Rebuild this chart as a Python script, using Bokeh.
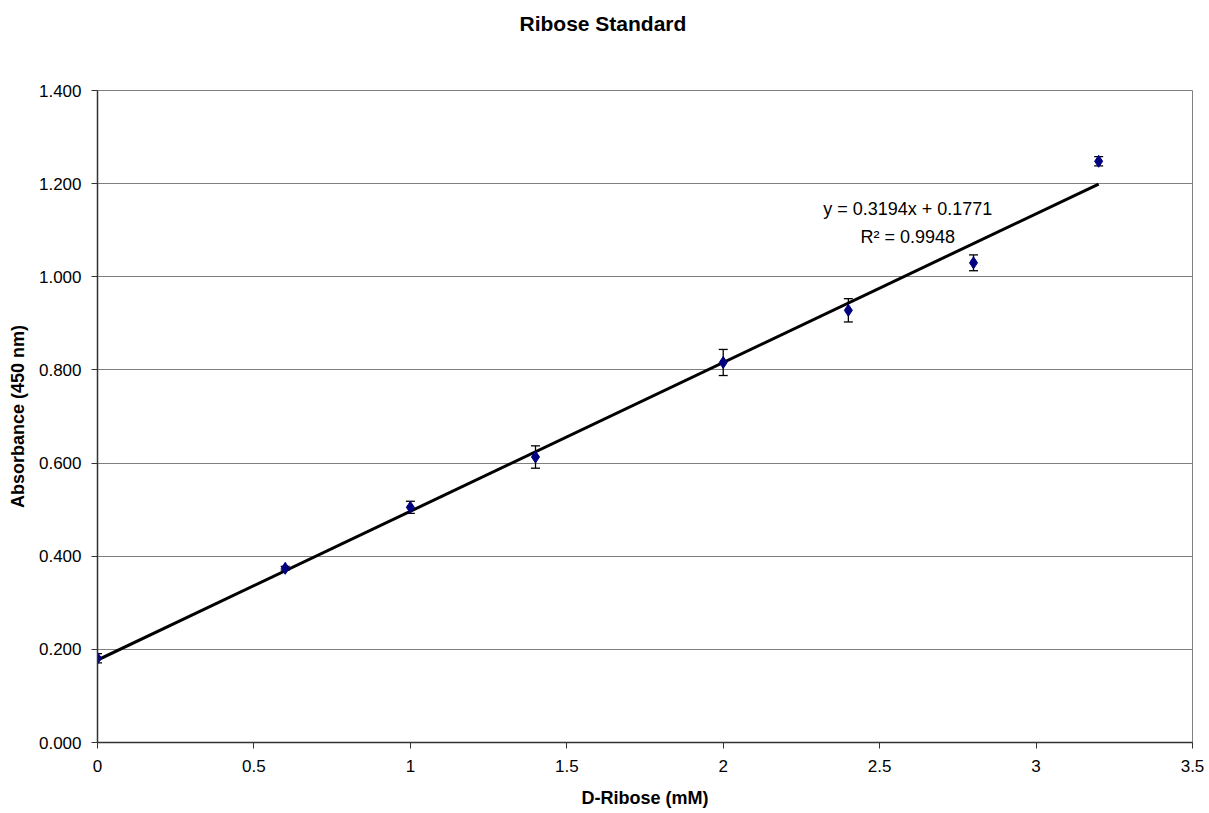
from bokeh.plotting import figure
from bokeh.models import (ColumnDataSource, Whisker, TeeHead, FixedTicker,
                          NumeralTickFormatter, Range1d, Label)
from bokeh.embed import file_html
from bokeh.resources import INLINE

# ---- data ----
ribose_mM = [0.0, 0.6, 1.0, 1.4, 2.0, 2.4, 2.8, 3.2]
absorbance = [0.181, 0.374, 0.505, 0.613, 0.816, 0.928, 1.030, 1.248]
abs_err = [0.010, 0.004, 0.013, 0.024, 0.028, 0.025, 0.017, 0.010]
fit_slope = 0.3194
fit_intercept = 0.1771
r_squared = 0.9948
x_ticks = [0, 0.5, 1, 1.5, 2, 2.5, 3, 3.5]
y_ticks = [0.0, 0.2, 0.4, 0.6, 0.8, 1.0, 1.2, 1.4]
title_text = "Ribose Standard"

FONT = "Liberation Sans"

p = figure(width=1209, height=813, output_backend="svg", toolbar_location=None,
           x_range=Range1d(0, 3.5), y_range=Range1d(0, 1.4),
           min_border_left=97, min_border_right=17, min_border_top=90,
           min_border_bottom=71)
p.background_fill_color = "white"
p.border_fill_color = "white"
p.outline_line_color = "#808080"
p.outline_line_width = 1

p.title.text = title_text + "\n\n"
p.title.align = "left"
p.title.offset = 422
p.title.standoff = 0
p.title.text_line_height = 1.2
p.title.text_font = FONT
p.title.text_font_size = "21px"
p.title.text_font_style = "bold"
p.title.text_color = "black"

# axes
for ax in (p.xaxis[0], p.yaxis[0]):
    ax.axis_line_color = "#333333"
    ax.axis_line_width = 1.5
    ax.major_tick_line_color = "#333333"
    ax.major_tick_out = 6
    ax.major_tick_in = 0
    ax.minor_tick_line_color = None
    ax.major_label_text_font = FONT
    ax.major_label_text_font_size = "17px"
    ax.major_label_text_color = "black"
    ax.axis_label_text_font = FONT
    ax.axis_label_text_font_size = "18px"
    ax.axis_label_text_font_style = "bold"
    ax.axis_label_text_color = "black"

p.xaxis.ticker = FixedTicker(ticks=x_ticks)
p.yaxis.ticker = FixedTicker(ticks=y_ticks)
p.yaxis.formatter = NumeralTickFormatter(format="0.000")
p.xaxis.axis_label = "D-Ribose (mM)"
p.yaxis.axis_label = "Absorbance (450 nm)"
p.xaxis.major_label_standoff = 11
p.yaxis.major_label_standoff = 10
p.xaxis.axis_label_standoff = 13
p.yaxis.axis_label_standoff = 8

p.xgrid.grid_line_color = None
p.ygrid.grid_line_color = "#808080"
p.ygrid.grid_line_width = 1

# trendline
x_fit = [min(ribose_mM), max(ribose_mM)]
y_fit = [fit_slope * x + fit_intercept for x in x_fit]
p.line(x_fit, y_fit, line_color="black", line_width=3)

# error bars
src = ColumnDataSource(dict(
    x=ribose_mM, y=absorbance,
    upper=[a + e for a, e in zip(absorbance, abs_err)],
    lower=[a - e for a, e in zip(absorbance, abs_err)],
))
w = Whisker(source=src, base="x", upper="upper", lower="lower",
            line_color="black", line_width=1.3,
            upper_head=TeeHead(size=9, line_color="black", line_width=1.3),
            lower_head=TeeHead(size=9, line_color="black", line_width=1.3))
p.add_layout(w)

# markers
p.scatter("x", "y", source=src, marker="diamond", size=12,
          fill_color="#000080", line_color="#000080")

# equation label
lab_x = 2.59
p.add_layout(Label(x=lab_x, y=1.145, text=f"y = {fit_slope}x + {fit_intercept}",
                   text_align="center", text_baseline="middle",
                   text_font=FONT, text_font_size="18px", text_color="black"))
p.add_layout(Label(x=lab_x, y=1.086, text=f"R\u00b2 = {r_squared}",
                   text_align="center", text_baseline="middle",
                   text_font=FONT, text_font_size="18px", text_color="black"))

open("out.html", "w").write(file_html(p, INLINE))
